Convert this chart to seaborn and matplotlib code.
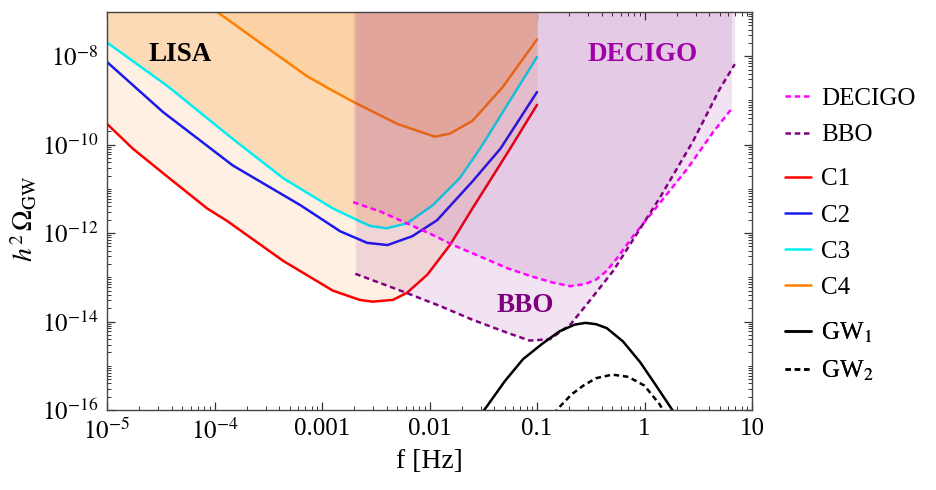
import numpy as np
import matplotlib
matplotlib.use("Agg")
import matplotlib.pyplot as plt
import matplotlib.ticker as mticker
import seaborn as sns

sns.set_theme(style="ticks")
plt.rcParams["font.family"] = ["Liberation Serif", "DejaVu Serif"]
plt.rcParams["mathtext.fontset"] = "stix"
plt.rcParams["text.color"] = "black"
plt.rcParams["axes.labelcolor"] = "black"

# curves given as log10(f / Hz) and log10(h^2 Omega_GW)
f_c1 = [-5.0, -4.76, -4.44, -4.07, -3.88, -3.36, -2.90, -2.65, -2.53, -2.34, -2.21, -2.02, -1.81, -1.60, -1.25, -1.0]
o_c1 = [-9.53, -10.09, -10.72, -11.44, -11.73, -12.63, -13.30, -13.51, -13.55, -13.51, -13.35, -12.94, -12.27, -11.44, -10.09, -9.10]

f_c2 = [-5.0, -4.48, -3.83, -3.20, -2.83, -2.58, -2.39, -2.16, -1.93, -1.60, -1.34, -1.0]
o_c2 = [-8.13, -9.26, -10.47, -11.37, -11.96, -12.22, -12.27, -12.07, -11.71, -10.83, -10.09, -8.81]

f_c3 = [-5.0, -4.44, -3.83, -3.36, -2.90, -2.65, -2.55, -2.40, -2.21, -1.97, -1.72, -1.53, -1.0]
o_c3 = [-7.69, -8.67, -9.87, -10.76, -11.44, -11.73, -11.84, -11.89, -11.78, -11.37, -10.76, -10.09, -8.02]

f_c4 = [-4.25, -3.98, -3.58, -3.14, -2.93, -2.71, -2.30, -1.95, -1.81, -1.60, -1.32, -1.0]
o_c4 = [-6.5, -6.99, -7.69, -8.45, -8.74, -9.03, -9.53, -9.82, -9.75, -9.46, -8.70, -7.62]

f_dec = [-2.71, -2.45, -2.21, -1.98, -1.78, -1.50, -1.28, -1.05, -0.85, -0.69, -0.55, -0.45, -0.35, -0.25, -0.11, 0.08, 0.40, 0.64, 0.81]
o_dec = [-11.30, -11.52, -11.78, -12.03, -12.27, -12.56, -12.79, -12.98, -13.12, -13.20, -13.15, -13.05, -12.85, -12.55, -12.08, -11.51, -10.54, -9.71, -9.19]

f_bbo = [-2.69, -2.27, -1.90, -1.60, -1.28, -1.07, -0.88, -0.69, -0.51, -0.29, 0.14, 0.45, 0.70, 0.84]
o_bbo = [-12.92, -13.30, -13.65, -13.96, -14.25, -14.43, -14.40, -14.07, -13.53, -12.85, -11.21, -9.93, -8.74, -8.18]

f_gw1 = [-1.6, -1.47, -1.3, -1.13, -0.95, -0.79, -0.65, -0.55, -0.45, -0.35, -0.2, -0.04, 0.1, 0.24, 0.35]
o_gw1 = [-16.35, -15.93, -15.35, -14.85, -14.50, -14.22, -14.07, -14.03, -14.06, -14.15, -14.45, -14.92, -15.42, -15.93, -16.35]

f_gw2 = [-0.9, -0.79, -0.68, -0.57, -0.45, -0.3, -0.15, 0.0, 0.14, 0.22]
o_gw2 = [-16.25, -15.93, -15.65, -15.45, -15.28, -15.2, -15.25, -15.45, -15.87, -16.2]

x_ticks = [1e-5, 1e-4, 1e-3, 1e-2, 1e-1, 1, 10]
x_labels = ["$10^{-5}$", "$10^{-4}$", "0.001", "0.01", "0.1", "1", "10"]
y_ticks = [1e-16, 1e-14, 1e-12, 1e-10, 1e-8]
y_labels = ["$10^{-16}$", "$10^{-14}$", "$10^{-12}$", "$10^{-10}$", "$10^{-8}$"]

ymax = 1e-7


def lin(a):
    return 10.0 ** np.asarray(a)


fig = plt.figure(figsize=(9.36, 4.90), dpi=100)
ax = fig.add_axes([107 / 936, 1 - 410 / 490, 645 / 936, 398 / 490])
ax.set_xscale("log")
ax.set_yscale("log")

# LISA-type sensitivity regions (orange shades)
ax.fill_between(lin(f_c1), lin(o_c1), ymax, color="#FEF0E2", lw=0, zorder=1)
ax.fill_between(lin(f_c3), lin(o_c3), ymax, color="#FDDAB6", lw=0, zorder=1.1)
ax.fill_between(lin(f_c4), lin(o_c4), ymax, color="#FDD2A5", lw=0, zorder=1.2)
# DECIGO / BBO regions (translucent purple, drawn over the C curves)
ax.fill_between(lin(f_bbo), lin(o_bbo), ymax, color=(0.5, 0, 0.5), alpha=0.11, lw=0, zorder=2)
ax.fill_between(lin(f_dec), lin(o_dec), ymax, color=(0.5, 0, 0.5), alpha=0.11, lw=0, zorder=2.1)

dash = (0, (2.2, 1.5))
lw = 1.8
series = [
    ("DECIGO", f_dec, o_dec, "#FF00FF", dash, 5),
    ("BBO", f_bbo, o_bbo, "#800080", dash, 5),
    ("C1", f_c1, o_c1, "#FF0000", "-", 1.5),
    ("C2", f_c2, o_c2, "#1A1AF0", "-", 1.5),
    ("C3", f_c3, o_c3, "#00F0F2", "-", 1.5),
    ("C4", f_c4, o_c4, "#FF8000", "-", 1.5),
    ("GW$_1$", f_gw1, o_gw1, "black", "-", 5),
    ("GW$_2$", f_gw2, o_gw2, "black", dash, 5),
]
handles = {}
for name, fx, oy, col, ls, z in series:
    sns.lineplot(x=lin(fx), y=lin(oy), ax=ax, color=col, linewidth=lw,
                 estimator=None, sort=False, zorder=z)
    line = ax.lines[-1]
    line.set_linestyle(ls)
    line.set_solid_joinstyle("round")
    line.set_dash_joinstyle("round")
    handles[name] = line

ax.set_xlim(1e-5, 10)
ax.set_ylim(1e-16, ymax)

# labels inside the plot
ax.text(10 ** -4.32, 10 ** -7.96, "LISA", fontsize=19.5, fontweight="bold",
        ha="center", va="center", color="black", zorder=6)
ax.text(10 ** -0.02, 10 ** -7.96, "DECIGO", fontsize=19.5, fontweight="bold",
        ha="center", va="center", color="#A000A8", zorder=6)
ax.text(10 ** -1.11, 10 ** -13.64, "BBO", fontsize=19.5, fontweight="bold",
        ha="center", va="center", color="#800080", zorder=6)

# ticks
ax.xaxis.set_major_locator(mticker.FixedLocator(x_ticks))
ax.xaxis.set_major_formatter(mticker.FixedFormatter(x_labels))
ax.xaxis.set_minor_locator(mticker.LogLocator(base=10, subs=np.arange(1, 10), numticks=60))
ax.xaxis.set_minor_formatter(mticker.NullFormatter())
ax.yaxis.set_major_locator(mticker.FixedLocator(y_ticks))
ax.yaxis.set_major_formatter(mticker.FixedFormatter(y_labels))
ax.yaxis.set_minor_locator(mticker.LogLocator(base=10, subs=np.arange(1, 10), numticks=60))
ax.yaxis.set_minor_formatter(mticker.NullFormatter())
ax.tick_params(which="both", direction="in", top=True, right=True,
               colors="#333333", labelcolor="black", labelsize=18)
ax.tick_params(which="major", length=6, width=0.9, pad=6)
ax.tick_params(which="minor", length=3, width=0.7)
for sp in ax.spines.values():
    sp.set_color("#444444")
    sp.set_linewidth(1.0)

ax.set_xlabel("f [Hz]", fontsize=20, labelpad=4)
ax.set_ylabel(r"$h^2\,\Omega_{\rm GW}$", fontsize=20)
ax.yaxis.set_label_coords(-0.105, 0.48)

# legend in three groups
groups = [(["DECIGO", "BBO"], 117), (["C1", "C2", "C3", "C4"], 233.5), (["GW$_1$", "GW$_2$"], 352)]
for names, yc in groups:
    leg = ax.legend([handles[n] for n in names], names, loc="center left",
                    bbox_to_anchor=(785 / 936, 1 - yc / 490), bbox_transform=fig.transFigure,
                    frameon=False, fontsize=18, handlelength=1.05, handletextpad=0.4,
                    labelspacing=0.55, borderpad=0, borderaxespad=0)
    for t in leg.get_texts():
        t.set_color("black")
    ax.add_artist(leg)

fig.savefig("out.png", dpi=100)
